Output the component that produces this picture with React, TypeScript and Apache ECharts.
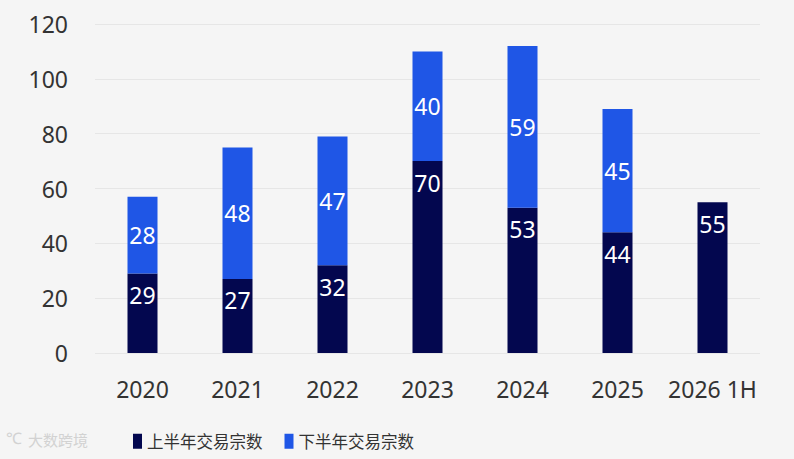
import React, { useEffect, useRef } from "react";
import * as echarts from "echarts";

const categories = ["2020", "2021", "2022", "2023", "2024", "2025", "2026 1H"];
const firstHalf = [29, 27, 32, 70, 53, 44, 55];
const secondHalf: (number | null)[] = [28, 48, 47, 40, 59, 45, null];
const seriesNames = ["上半年交易宗数", "下半年交易宗数"];

export default function App() {
  const ref = useRef<HTMLDivElement>(null);
  useEffect(() => {
    if (!ref.current) return;
    const chart = echarts.init(ref.current, null, { renderer: "svg" });
    const numFont = "'Noto Sans', 'Open Sans', sans-serif";
    chart.setOption({
      animation: false,
      backgroundColor: "#f5f5f5",
      grid: { left: 95, right: 34, top: 24, bottom: 106 },
      legend: {
        left: 128,
        top: 428,
        itemWidth: 9,
        itemHeight: 15,
        itemGap: 22,
        icon: "rect",
        textStyle: {
          fontSize: 16.5,
          color: "#333",
          fontFamily: "'Noto Sans CJK SC', sans-serif",
        },
        data: seriesNames,
      },
      xAxis: {
        type: "category",
        data: categories,
        axisLine: { show: false },
        axisTick: { show: false },
        axisLabel: {
          interval: 0,
          color: "#333",
          fontSize: 23,
          fontFamily: numFont,
          margin: 24,
        },
      },
      yAxis: {
        type: "value",
        min: 0,
        max: 120,
        interval: 20,
        axisLine: { show: false },
        axisTick: { show: false },
        axisLabel: {
          color: "#333",
          fontSize: 23,
          fontFamily: numFont,
          margin: 27,
        },
        splitLine: { lineStyle: { color: "#e6e6e6", width: 1 } },
      },
      series: [
        {
          name: seriesNames[0],
          type: "bar",
          stack: "total",
          barWidth: 30,
          data: firstHalf,
          itemStyle: { color: "#03074f" },
          label: {
            show: true,
            position: "insideTop",
            distance: 10,
            color: "#fff",
            fontSize: 23,
            fontFamily: numFont,
          },
        },
        {
          name: seriesNames[1],
          type: "bar",
          stack: "total",
          barWidth: 30,
          data: secondHalf,
          itemStyle: { color: "#1f56e6" },
          label: {
            show: true,
            position: "inside",
            color: "#fff",
            fontSize: 23,
            fontFamily: numFont,
          },
        },
      ],
      graphic: [
        {
          type: "text",
          left: 28,
          top: 432,
          style: {
            text: "大数跨境",
            fill: "#d2d2d2",
            fontSize: 15,
            fontFamily: "'Noto Sans CJK SC', sans-serif",
          },
        },
        {
          type: "text",
          left: 6,
          top: 430,
          style: {
            text: "℃",
            fill: "#d2d2d2",
            fontSize: 16,
            fontFamily: "'Noto Sans', sans-serif",
          },
        },
      ],
    });
    return () => chart.dispose();
  }, []);
  return (
    <div
      ref={ref}
      style={{ position: "fixed", left: 0, top: 0, width: 794, height: 459 }}
    />
  );
}
